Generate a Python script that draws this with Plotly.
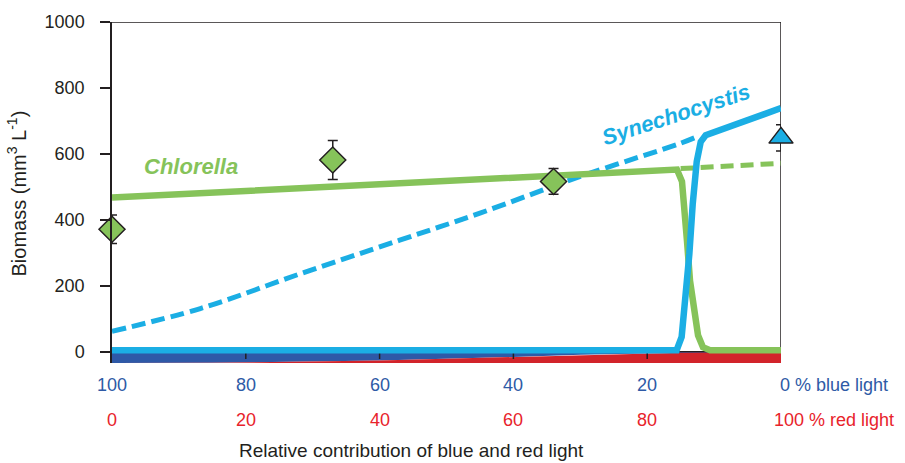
import plotly.graph_objects as go

# ---- data -------------------------------------------------------------
# x: percentage of blue light (the rest is red light)
chl_obs_x = [100, 67, 34]
chl_obs_y = [372, 582, 517]
chl_obs_err = [43, 59, 39]

syn_obs_x = [0]
syn_obs_y = [649]
syn_obs_err = [40]

# Chlorella model, monoculture/competition (solid) and alone (dashed)
chl_model_x = [100, 16.6, 15.55, 14.8, 14.5, 14.05, 13.6, 13.0, 12.4, 11.66, 10.6, 0]
chl_model_y = [468, 556, 553, 517, 456, 336, 216, 126, 51, 15, 6, 6]
chl_alone_x = [15.0, 0]
chl_alone_y = [556, 572]

# Synechocystis model, competition (solid) and alone (dashed)
syn_model_x = [100, 17.0, 15.6, 14.85, 14.1, 13.7, 13.2, 12.6, 12.0, 11.26, 0]
syn_model_y = [6, 6, 6, 46, 196, 297, 447, 577, 637, 657, 739]
syn_alone_x = [100, 86.8, 71.9, 57.0, 45.0, 30.0, 15.1, 12.6]
syn_alone_y = [63, 132, 237, 339, 421, 532, 632, 652]

# light spectrum band under the axis: blue above, red below the split line
band_top, band_bottom = 0, -33
split_x = [100, 85, 60, 40, 30, 15, 0]
split_y = [-33, -32.3, -25.4, -14.9, -8.3, -1.7, 0]

# tick labels (position given as % blue light)
y_ticks = [0, 200, 400, 600, 800, 1000]
blue_tick_x = [100, 80, 60, 40, 20, -7.9]
blue_tick_text = ["100", "80", "60", "40", "20", "0 % blue light"]
red_tick_x = [100, 80, 60, 40, 20, -7.9]
red_tick_text = ["0", "20", "40", "60", "80", "100 % red light"]
minor_tick_x = [80, 60, 40, 20]

X_MAX, X_MIN = 100, 0

GREEN = "#86C35A"
CYAN = "#1BAEE4"
DARKBLUE = "#2E59A7"
RED = "#D2232A"
BLUE_TXT = "#2E5AA6"
RED_TXT = "#E8232B"
INK = "#231F20"
FONT = "Liberation Sans, Arial, sans-serif"


def to_paper(v):
    """Reversed x axis: 100 % blue on the left edge, 0 % on the right."""
    return (X_MAX - v) / (X_MAX - X_MIN)


fig = go.Figure()

# spectrum band
fig.add_trace(go.Scatter(
    x=[100, 0] + split_x[::-1][1:], y=[band_top, band_top] + split_y[::-1][1:],
    fill="toself", fillcolor=DARKBLUE, mode="lines", line=dict(width=0),
    hoverinfo="skip", showlegend=False))
fig.add_trace(go.Scatter(
    x=split_x + [0, 100], y=split_y + [band_bottom, band_bottom],
    fill="toself", fillcolor=RED, mode="lines", line=dict(width=0),
    hoverinfo="skip", showlegend=False))

# small x tick marks
fig.add_trace(go.Scatter(
    x=minor_tick_x, y=[-6] * len(minor_tick_x), mode="markers",
    marker=dict(symbol="line-ns", size=7, line=dict(width=1.5, color=INK)),
    hoverinfo="skip", showlegend=False))

# dashed model curves
fig.add_trace(go.Scatter(
    x=syn_alone_x, y=syn_alone_y, mode="lines", line_shape="spline",
    line=dict(color=CYAN, width=5, dash="14px,6px"), showlegend=False))
fig.add_trace(go.Scatter(
    x=chl_alone_x, y=chl_alone_y, mode="lines",
    line=dict(color=GREEN, width=5, dash="13px,7px"), showlegend=False))

# solid model curves
fig.add_trace(go.Scatter(
    x=chl_model_x, y=chl_model_y, mode="lines",
    line=dict(color=GREEN, width=6.5), showlegend=False))
fig.add_trace(go.Scatter(
    x=syn_model_x, y=syn_model_y, mode="lines",
    line=dict(color=CYAN, width=6.5), showlegend=False))

# observations
fig.add_trace(go.Scatter(
    x=chl_obs_x, y=chl_obs_y, mode="markers", cliponaxis=False,
    marker=dict(symbol="diamond", size=20, color=GREEN,
                line=dict(color=INK, width=1.5)),
    error_y=dict(type="data", array=chl_obs_err, color=INK, thickness=1.5, width=5),
    showlegend=False))
fig.add_trace(go.Scatter(
    x=syn_obs_x, y=syn_obs_y, mode="markers", cliponaxis=False,
    marker=dict(symbol="triangle-up", size=21, color=CYAN,
                line=dict(color=INK, width=1.5)),
    error_y=dict(type="data", array=syn_obs_err, color=INK, thickness=1.5, width=5),
    showlegend=False))

annotations = []
for x, t in zip(blue_tick_x, blue_tick_text):
    annotations.append(dict(x=to_paper(x), y=-0.064, xref="paper", yref="paper",
                            text=t, showarrow=False,
                            font=dict(family=FONT, size=18, color=BLUE_TXT),
                            xanchor="center", yanchor="middle"))
for x, t in zip(red_tick_x, red_tick_text):
    annotations.append(dict(x=to_paper(x), y=-0.166, xref="paper", yref="paper",
                            text=t, showarrow=False,
                            font=dict(family=FONT, size=18, color=RED_TXT),
                            xanchor="center", yanchor="middle"))

annotations += [
    dict(x=0.448, y=-0.256, xref="paper", yref="paper",
         text="Relative contribution of blue and red light", showarrow=False,
         font=dict(family=FONT, size=19, color=INK), xanchor="center", yanchor="middle"),
    dict(x=-0.142, y=0.497, xref="paper", yref="paper", textangle=-90,
         text="Biomass (mm<sup>3</sup> L<sup>-1</sup>)", showarrow=False,
         font=dict(family=FONT, size=20, color=INK), xanchor="center", yanchor="middle"),
    dict(x=88.2, y=561, xref="x", yref="y", text="<b><i>Chlorella</i></b>",
         showarrow=False, font=dict(family=FONT, size=22, color=GREEN),
         xanchor="center", yanchor="middle"),
    dict(x=15.7, y=720, xref="x", yref="y", text="<b><i>Synechocystis</i></b>",
         showarrow=False, textangle=-18, font=dict(family=FONT, size=22, color=CYAN),
         xanchor="center", yanchor="middle"),
]

fig.update_layout(
    width=905, height=463,
    margin=dict(l=112, r=124, t=19, b=100),
    paper_bgcolor="white", plot_bgcolor="white",
    annotations=annotations,
    shapes=[
        dict(type="line", xref="paper", yref="y", x0=0, x1=1, y0=1000, y1=1000,
             line=dict(color=INK, width=1.5), layer="below"),
        dict(type="line", xref="x", yref="y", x0=0, x1=0, y0=0, y1=1000,
             line=dict(color=INK, width=1.5), layer="below"),
    ],
    xaxis=dict(range=[X_MAX, X_MIN], showline=False, showgrid=False, zeroline=False,
               showticklabels=False, ticks=""),
    yaxis=dict(range=[-33, 1000], tickvals=y_ticks, showgrid=False,
               showline=True, linecolor=INK, linewidth=1.5,
               ticks="outside", ticklen=10, tickwidth=1.5, tickcolor=INK,
               ticklabelstandoff=12,
               zeroline=True, zerolinecolor=INK, zerolinewidth=1.5,
               tickfont=dict(family=FONT, size=18, color=INK)),
)

fig.write_html("out.html")
